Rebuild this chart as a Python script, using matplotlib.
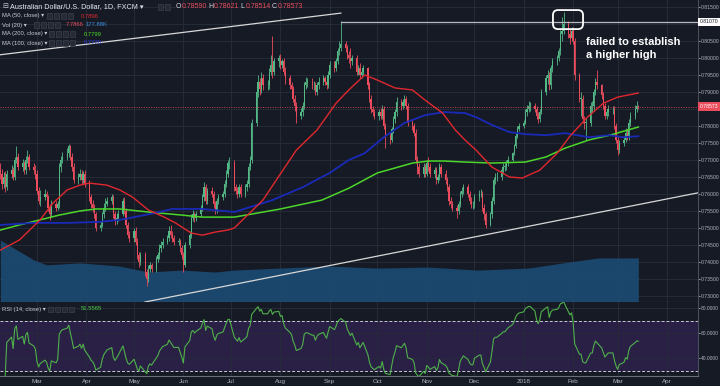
import numpy as np
import pandas as pd
import matplotlib
matplotlib.use('Agg')
import matplotlib.pyplot as plt
import matplotlib.dates as mdates
from matplotlib.patches import Rectangle, FancyBboxPatch

plt.rcParams['font.family'] = ['Liberation Sans', 'DejaVu Sans']

# daily closes AUD/USD, one row per week (Mon..Fri), from 2017-02-06
closes = [
    0.7660, 0.7630, 0.7650, 0.7620, 0.7660,
    0.7670, 0.7650, 0.7700, 0.7710, 0.7680,
    0.7690, 0.7670, 0.7700, 0.7710, 0.7680,
    0.7670, 0.7660, 0.7610, 0.7580, 0.7590,
    0.7600, 0.7590, 0.7560, 0.7540, 0.7570,
    0.7560, 0.7570, 0.7680, 0.7700, 0.7710,
    0.7720, 0.7740, 0.7710, 0.7680, 0.7640,
    0.7650, 0.7660, 0.7640, 0.7660, 0.7630,
    0.7590, 0.7570, 0.7560, 0.7540, 0.7500,
    0.7510, 0.7540, 0.7560, 0.7570, 0.7580,
    0.7590, 0.7540, 0.7520, 0.7530, 0.7540,
    0.7580, 0.7550, 0.7510, 0.7480, 0.7470,
    0.7490, 0.7460, 0.7420, 0.7400, 0.7420,
    0.7370, 0.7350, 0.7380, 0.7390, 0.7380,
    0.7410, 0.7420, 0.7440, 0.7450, 0.7460,
    0.7470, 0.7490, 0.7480, 0.7470, 0.7460,
    0.7460, 0.7440, 0.7420, 0.7390, 0.7450,
    0.7480, 0.7530, 0.7540, 0.7530, 0.7540,
    0.7560, 0.7590, 0.7620, 0.7580, 0.7610,
    0.7600, 0.7570, 0.7550, 0.7580, 0.7590,
    0.7600, 0.7630, 0.7660, 0.7690, 0.7690,
    0.7620, 0.7610, 0.7600, 0.7620, 0.7600,
    0.7620, 0.7630, 0.7680, 0.7700, 0.7810,
    0.7900, 0.7930, 0.7910, 0.7940, 0.7920,
    0.7920, 0.7960, 0.7980, 0.7960, 0.7990,
    0.8000, 0.7980, 0.7990, 0.7960, 0.7940,
    0.7920, 0.7910, 0.7880, 0.7860, 0.7830,
    0.7840, 0.7860, 0.7920, 0.7930, 0.7930,
    0.7920, 0.7920, 0.7900, 0.7920, 0.7930,
    0.7940, 0.7930, 0.7920, 0.7950, 0.7980,
    0.7970, 0.7990, 0.8020, 0.8030, 0.8040,
    0.8030, 0.8010, 0.8000, 0.7990, 0.8000,
    0.7960, 0.7970, 0.7950, 0.7960, 0.7970,
    0.7920, 0.7880, 0.7850, 0.7840, 0.7830,
    0.7840, 0.7830, 0.7850, 0.7800, 0.7770,
    0.7760, 0.7790, 0.7820, 0.7840, 0.7870,
    0.7860, 0.7870, 0.7880, 0.7860, 0.7810,
    0.7800, 0.7780, 0.7700, 0.7680, 0.7660,
    0.7680, 0.7660, 0.7690, 0.7680, 0.7660,
    0.7670, 0.7640, 0.7650, 0.7680, 0.7660,
    0.7640, 0.7620, 0.7580, 0.7570, 0.7560,
    0.7550, 0.7570, 0.7600, 0.7610, 0.7620,
    0.7600, 0.7580, 0.7570, 0.7570, 0.7590,
    0.7600, 0.7600, 0.7560, 0.7540, 0.7510,
    0.7540, 0.7580, 0.7640, 0.7650, 0.7650,
    0.7670, 0.7680, 0.7680, 0.7690, 0.7700,
    0.7720, 0.7740, 0.7770, 0.7790, 0.7800,
    0.7810, 0.7840, 0.7850, 0.7860, 0.7860,
    0.7850, 0.7830, 0.7820, 0.7840, 0.7900,
    0.7940, 0.7950, 0.7920, 0.7970, 0.7990,
    0.8000, 0.8020, 0.8070, 0.8080, 0.8100,
    0.8070, 0.8060, 0.8080, 0.8050, 0.7950,
    0.7880, 0.7880, 0.7820, 0.7810, 0.7810,
    0.7860, 0.7860, 0.7900, 0.7930, 0.7920,
    0.7890, 0.7860, 0.7830, 0.7840, 0.7850,
    0.7850, 0.7800, 0.7760, 0.7730, 0.7750,
    0.7760, 0.7780, 0.7770, 0.7810, 0.7830,
    0.7850, 0.7859, 0.78573,
]
highs = [
    0.7690, 0.7675, 0.7665, 0.7668, 0.7672,
    0.7685, 0.7680, 0.7710, 0.7740, 0.7722,
    0.7702, 0.7698, 0.7712, 0.7730, 0.7718,
    0.7690, 0.7684, 0.7672, 0.7620, 0.7612,
    0.7614, 0.7610, 0.7598, 0.7570, 0.7582,
    0.7580, 0.7578, 0.7690, 0.7712, 0.7725,
    0.7735, 0.7748, 0.7745, 0.7720, 0.7690,
    0.7662, 0.7675, 0.7670, 0.7668, 0.7670,
    0.7640, 0.7600, 0.7582, 0.7570, 0.7548,
    0.7522, 0.7548, 0.7575, 0.7588, 0.7590,
    0.7600, 0.7598, 0.7550, 0.7545, 0.7552,
    0.7588, 0.7590, 0.7560, 0.7518, 0.7490,
    0.7500, 0.7502, 0.7470, 0.7430, 0.7430,
    0.7428, 0.7380, 0.7390, 0.7400, 0.7398,
    0.7418, 0.7430, 0.7452, 0.7462, 0.7470,
    0.7480, 0.7505, 0.7510, 0.7490, 0.7478,
    0.7470, 0.7468, 0.7450, 0.7428, 0.7458,
    0.7490, 0.7540, 0.7552, 0.7548, 0.7550,
    0.7568, 0.7600, 0.7635, 0.7628, 0.7618,
    0.7620, 0.7608, 0.7580, 0.7588, 0.7600,
    0.7610, 0.7640, 0.7670, 0.7700, 0.7710,
    0.7700, 0.7630, 0.7622, 0.7630, 0.7628,
    0.7630, 0.7640, 0.7690, 0.7712, 0.7820,
    0.7910, 0.7950, 0.7940, 0.7960, 0.7952,
    0.7935, 0.7970, 0.8010, 0.8065, 0.8000,
    0.8010, 0.8012, 0.7998, 0.8000, 0.7975,
    0.7950, 0.7930, 0.7918, 0.7890, 0.7870,
    0.7852, 0.7870, 0.7928, 0.7945, 0.7940,
    0.7940, 0.7932, 0.7928, 0.7930, 0.7945,
    0.7950, 0.7948, 0.7940, 0.7962, 0.7990,
    0.7992, 0.8000, 0.8030, 0.8050, 0.8110,
    0.8050, 0.8038, 0.8020, 0.8030, 0.8010,
    0.8008, 0.7980, 0.7985, 0.7968, 0.7980,
    0.7975, 0.7930, 0.7890, 0.7860, 0.7850,
    0.7850, 0.7852, 0.7862, 0.7858, 0.7810,
    0.7778, 0.7798, 0.7830, 0.7850, 0.7885,
    0.7880, 0.7880, 0.7890, 0.7888, 0.7868,
    0.7822, 0.7808, 0.7790, 0.7712, 0.7690,
    0.7690, 0.7688, 0.7700, 0.7710, 0.7690,
    0.7680, 0.7678, 0.7660, 0.7690, 0.7688,
    0.7670, 0.7650, 0.7630, 0.7592, 0.7580,
    0.7568, 0.7580, 0.7610, 0.7620, 0.7630,
    0.7630, 0.7608, 0.7590, 0.7580, 0.7600,
    0.7612, 0.7615, 0.7608, 0.7570, 0.7548,
    0.7548, 0.7590, 0.7650, 0.7662, 0.7665,
    0.7680, 0.7690, 0.7692, 0.7700, 0.7712,
    0.7725, 0.7748, 0.7780, 0.7800, 0.7810,
    0.7818, 0.7850, 0.7862, 0.7875, 0.7872,
    0.7868, 0.7858, 0.7840, 0.7850, 0.7910,
    0.7950, 0.7965, 0.7960, 0.7980, 0.8000,
    0.8010, 0.8030, 0.8082, 0.8120, 0.8135,
    0.8110, 0.8085, 0.8090, 0.8092, 0.8060,
    0.7955, 0.7900, 0.7890, 0.7830, 0.7825,
    0.7870, 0.7875, 0.7910, 0.7940, 0.7965,
    0.7925, 0.7900, 0.7868, 0.7850, 0.7862,
    0.7860, 0.7858, 0.7810, 0.7770, 0.7760,
    0.7772, 0.7795, 0.7790, 0.7820, 0.7840,
    0.7862, 0.7875, 0.78621,
]
lows = [
    0.7645, 0.7615, 0.7618, 0.7605, 0.7612,
    0.7648, 0.7640, 0.7642, 0.7690, 0.7670,
    0.7668, 0.7660, 0.7660, 0.7690, 0.7672,
    0.7660, 0.7645, 0.7600, 0.7570, 0.7565,
    0.7582, 0.7580, 0.7550, 0.7525, 0.7532,
    0.7550, 0.7552, 0.7560, 0.7665, 0.7690,
    0.7700, 0.7710, 0.7700, 0.7668, 0.7632,
    0.7628, 0.7640, 0.7630, 0.7632, 0.7622,
    0.7580, 0.7560, 0.7548, 0.7530, 0.7490,
    0.7490, 0.7502, 0.7530, 0.7550, 0.7565,
    0.7570, 0.7530, 0.7510, 0.7512, 0.7522,
    0.7535, 0.7540, 0.7500, 0.7470, 0.7460,
    0.7460, 0.7450, 0.7410, 0.7385, 0.7392,
    0.7360, 0.7330, 0.7342, 0.7370, 0.7370,
    0.7372, 0.7400, 0.7410, 0.7430, 0.7440,
    0.7452, 0.7462, 0.7470, 0.7460, 0.7450,
    0.7450, 0.7430, 0.7410, 0.7370, 0.7385,
    0.7440, 0.7472, 0.7520, 0.7518, 0.7522,
    0.7532, 0.7550, 0.7580, 0.7570, 0.7572,
    0.7590, 0.7560, 0.7540, 0.7545, 0.7570,
    0.7582, 0.7592, 0.7620, 0.7650, 0.7675,
    0.7610, 0.7600, 0.7588, 0.7592, 0.7590,
    0.7592, 0.7610, 0.7620, 0.7670, 0.7692,
    0.7800, 0.7885, 0.7890, 0.7898, 0.7905,
    0.7905, 0.7910, 0.7950, 0.7940, 0.7950,
    0.7975, 0.7968, 0.7970, 0.7950, 0.7925,
    0.7910, 0.7900, 0.7870, 0.7845, 0.7810,
    0.7820, 0.7830, 0.7850, 0.7910, 0.7915,
    0.7910, 0.7905, 0.7890, 0.7890, 0.7910,
    0.7920, 0.7920, 0.7910, 0.7912, 0.7940,
    0.7960, 0.7962, 0.7982, 0.8010, 0.8020,
    0.8018, 0.7998, 0.7985, 0.7970, 0.7978,
    0.7950, 0.7950, 0.7938, 0.7940, 0.7950,
    0.7910, 0.7870, 0.7838, 0.7828, 0.7820,
    0.7818, 0.7820, 0.7822, 0.7790, 0.7735,
    0.7748, 0.7752, 0.7780, 0.7810, 0.7830,
    0.7848, 0.7850, 0.7860, 0.7850, 0.7800,
    0.7788, 0.7770, 0.7690, 0.7660, 0.7650,
    0.7650, 0.7650, 0.7652, 0.7668, 0.7650,
    0.7648, 0.7630, 0.7632, 0.7642, 0.7650,
    0.7630, 0.7610, 0.7568, 0.7560, 0.7550,
    0.7530, 0.7540, 0.7562, 0.7590, 0.7600,
    0.7590, 0.7570, 0.7560, 0.7555, 0.7560,
    0.7580, 0.7590, 0.7550, 0.7525, 0.7500,
    0.7505, 0.7530, 0.7570, 0.7630, 0.7638,
    0.7640, 0.7660, 0.7668, 0.7672, 0.7682,
    0.7698, 0.7715, 0.7735, 0.7765, 0.7785,
    0.7795, 0.7805, 0.7830, 0.7840, 0.7845,
    0.7840, 0.7822, 0.7808, 0.7812, 0.7835,
    0.7890, 0.7925, 0.7905, 0.7910, 0.7960,
    0.7980, 0.7990, 0.8010, 0.8050, 0.8070,
    0.8060, 0.8040, 0.8050, 0.8040, 0.7935,
    0.7870, 0.7830, 0.7810, 0.7790, 0.7760,
    0.7800, 0.7840, 0.7845, 0.7890, 0.7910,
    0.7880, 0.7850, 0.7820, 0.7820, 0.7830,
    0.7835, 0.7790, 0.7750, 0.7715, 0.7722,
    0.7740, 0.7752, 0.7760, 0.7760, 0.7800,
    0.7820, 0.7842, 0.78514,
]
first_open = 0.7670

# moving averages
ma50_dates = ['2017-02-06', '2017-02-18', '2017-03-03', '2017-03-11', '2017-03-20', '2017-03-28',
              '2017-04-03', '2017-04-14', '2017-04-22', '2017-04-30', '2017-05-10', '2017-05-20',
              '2017-05-27', '2017-06-06', '2017-06-13', '2017-06-21', '2017-06-29', '2017-07-03',
              '2017-07-21', '2017-08-11', '2017-08-24', '2017-09-05', '2017-09-13', '2017-09-23',
              '2017-10-01', '2017-10-12', '2017-10-23', '2017-10-31', '2017-11-11', '2017-11-19',
              '2017-11-25', '2017-12-02', '2017-12-12', '2017-12-23', '2017-12-31', '2018-01-11',
              '2018-01-22', '2018-01-30', '2018-02-10', '2018-02-20', '2018-03-01', '2018-03-14']
ma50_vals = [0.7435, 0.7465, 0.7524, 0.7573, 0.7612, 0.7626,
             0.7632, 0.7626, 0.7612, 0.7591, 0.7553, 0.7532,
             0.7515, 0.7485, 0.7479, 0.7488, 0.7494, 0.7500,
             0.7582, 0.7729, 0.7788, 0.7867, 0.7906, 0.7950,
             0.7935, 0.7912, 0.7906, 0.7876, 0.7838, 0.7788,
             0.7759, 0.7729, 0.7679, 0.7650, 0.7647, 0.7670,
             0.7720, 0.7770, 0.7826, 0.7867, 0.7885, 0.7897]

ma100_dates = ['2017-02-06', '2017-02-27', '2017-03-20', '2017-04-09', '2017-04-22', '2017-05-01',
               '2017-05-14', '2017-05-25', '2017-06-13', '2017-07-03', '2017-07-27', '2017-08-15',
               '2017-09-01', '2017-09-13', '2017-09-23', '2017-10-05', '2017-10-18', '2017-10-31',
               '2017-11-12', '2017-11-25', '2017-12-02', '2017-12-12', '2017-12-23', '2018-01-02',
               '2018-01-15', '2018-01-27', '2018-02-11', '2018-02-24', '2018-03-04', '2018-03-14']
ma100_vals = [0.7509, 0.7515, 0.7515, 0.7518, 0.7524, 0.7532,
              0.7544, 0.7556, 0.7556, 0.7547, 0.7582, 0.7620,
              0.7662, 0.7700, 0.7720, 0.7767, 0.7809, 0.7832,
              0.7841, 0.7838, 0.7826, 0.7803, 0.7782, 0.7776,
              0.7773, 0.7779, 0.7767, 0.7773, 0.7767, 0.7770]

ma200_dates = ['2017-02-06', '2017-02-18', '2017-03-03', '2017-03-15', '2017-03-28', '2017-04-07',
               '2017-04-22', '2017-05-10', '2017-05-31', '2017-06-13', '2017-07-03', '2017-07-31',
               '2017-08-27', '2017-09-13', '2017-10-01', '2017-10-23', '2017-11-02', '2017-11-12',
               '2017-11-25', '2017-12-12', '2018-01-02', '2018-01-15', '2018-01-27', '2018-02-11',
               '2018-02-24', '2018-03-14']
ma200_vals = [0.7494, 0.7509, 0.7524, 0.7538, 0.7550, 0.7556,
              0.7556, 0.7547, 0.7538, 0.7532, 0.7532, 0.7555,
              0.7582, 0.7617, 0.7662, 0.7691, 0.7697, 0.7697,
              0.7694, 0.7691, 0.7694, 0.7709, 0.7735, 0.7759,
              0.7773, 0.7797]

# volume (20) in thousands
vol_dates = ['2017-02-06', '2017-02-27', '2017-03-07', '2017-03-28', '2017-04-22', '2017-05-10',
             '2017-05-31', '2017-06-21', '2017-07-03', '2017-07-31', '2017-09-01', '2017-10-01',
             '2017-11-02', '2017-12-03', '2018-01-04', '2018-01-30', '2018-02-17', '2018-03-14']
vol_k = [250, 170, 150, 158, 145, 121, 129, 121, 129, 137, 145, 137, 141, 129, 137, 162, 178, 178]

# trend lines drawn on the chart
resist_line = (['2017-02-05', '2017-09-08'], [0.8009, 0.8132])
top_level = (['2017-09-08', '2018-04-21'], [0.8107, 0.8107])
support_line = (['2017-05-14', '2018-04-20'], [0.7288, 0.7603])

BG = '#161a25'
GRID = '#262b38'
TXT = '#c8cbd3'
UP = '#53b987'
DOWN = '#eb4d5c'
W, H = 720, 386

fig = plt.figure(figsize=(7.2, 3.86), dpi=100, facecolor=BG)
ax = fig.add_axes([0, 1 - 302 / H, 698 / W, 302 / H], facecolor=BG)
ax2 = fig.add_axes([0, 1 - 376 / H, 698 / W, 74 / H], facecolor=BG, sharex=ax)

x0 = mdates.date2num(pd.Timestamp('2017-02-05 18:00'))
x1 = mdates.date2num(pd.Timestamp('2018-04-20 12:00'))

# candles
dates = pd.bdate_range('2017-02-06', periods=len(closes))
xd = mdates.date2num(dates)
c = np.array(closes)
o = np.r_[first_open, c[:-1]]
h = np.maximum(np.array(highs), np.maximum(o, c))
l = np.minimum(np.array(lows), np.minimum(o, c))
col = np.where(c >= o, UP, DOWN)
ax.vlines(xd, l, h, colors=col, lw=0.6, zorder=3)
ax.bar(xd, np.maximum(np.abs(c - o), 0.00012), bottom=np.minimum(o, c), width=0.8,
       color=col, lw=0, zorder=3)

# volume area
vx = mdates.date2num(pd.to_datetime(vol_dates))
ax.fill_between(vx, 0, np.array(vol_k) / 1220.0, transform=ax.get_xaxis_transform(),
                color='#1b4b73', alpha=0.9, lw=0, zorder=1)

# moving averages
ax.plot(pd.to_datetime(ma200_dates), ma200_vals, color='#4cd62a', lw=1.1, zorder=4)
ax.plot(pd.to_datetime(ma100_dates), ma100_vals, color='#1a2ab8', lw=1.3, zorder=4)
ax.plot(pd.to_datetime(ma50_dates), ma50_vals, color='#e0282e', lw=1.0, zorder=4)

# trend lines
ax.plot(pd.to_datetime(resist_line[0]), resist_line[1], color='#d8d8d8', lw=0.9, zorder=5)
ax.plot(pd.to_datetime(top_level[0]), top_level[1], color='#b8bac0', lw=0.9, zorder=5)
sl = [mdates.date2num(pd.Timestamp(d)) for d in support_line[0]]
ax.axline((sl[0], support_line[1][0]), (sl[1], support_line[1][1]), color='#d8d8d8', lw=0.9, zorder=5)

# last price line
ax.axhline(c[-1], color=DOWN, lw=0.7, ls=(0, (1, 1.5)), zorder=5, alpha=0.8)

# highlight box and note
bx0 = mdates.date2num(pd.Timestamp('2018-01-19 08:00'))
ax.add_patch(FancyBboxPatch((bx0, 0.8085), 18.9, 0.0056,
                            boxstyle='round,pad=0,rounding_size=3.2', mutation_aspect=0.000468,
                            fc='none', ec='white', lw=1.3, zorder=6))
ax.text(mdates.date2num(pd.Timestamp('2018-02-09')), 0.8061, 'failed to establish\na higher high',
        color='white', fontsize=8, fontweight='bold', va='top', ha='left', linespacing=1.3, zorder=6)

ax.set_xlim(x0, x1)
ax.set_ylim(0.728235, 0.81706)

# axes styling
months = pd.date_range('2017-03-01', '2018-04-01', freq='MS')
labels = ['2018' if m.month == 1 else m.strftime('%b') for m in months]
for a in (ax, ax2):
    a.set_xticks(mdates.date2num(months))
    a.grid(True, color=GRID, lw=0.7)
    a.set_axisbelow(True)
    for s in ('top', 'left'):
        a.spines[s].set_visible(False)
    a.spines['right'].set_color('#4a4e5a')
    a.spines['bottom'].set_color('#6a6e78')
    a.yaxis.tick_right()
    a.tick_params(colors='#b2b5be', labelsize=3.7, length=1.5, width=0.6, pad=0.8)
ax.tick_params(axis='x', labelbottom=False, length=0)
ax2.tick_params(axis='y', labelsize=3.5)
ax2.set_xticklabels(labels)
ax2.tick_params(axis='x', length=0, pad=2, labelsize=4.5)

yt = np.arange(0.730, 0.8151, 0.005)
ax.set_yticks(yt)
# labels at 0.810 and 0.785 sit under the price tags
ax.set_yticklabels(['' if abs(v - 0.810) < 1e-6 or abs(v - 0.785) < 1e-6 else '%.5f' % v for v in yt])

# price tags
ax.text(1.002, 0.8107, '0.81070', transform=ax.get_yaxis_transform(), fontsize=3.7, color='#131722',
        va='center', ha='left', bbox=dict(boxstyle='square,pad=0.3', fc='white', ec='none'), zorder=7,
        clip_on=False)
ax.text(1.002, c[-1], '%.5f' % c[-1], transform=ax.get_yaxis_transform(), fontsize=3.7, color='white',
        va='center', ha='left', bbox=dict(boxstyle='square,pad=0.3', fc=DOWN, ec='none'), zorder=7,
        clip_on=False)

# RSI panel
s = pd.Series(c)
d = s.diff()
gain = d.clip(lower=0).ewm(alpha=1 / 14, adjust=True, min_periods=3).mean()
loss = (-d.clip(upper=0)).ewm(alpha=1 / 14, adjust=True, min_periods=3).mean()
rsi = 100 - 100 / (1 + gain / loss)
ax2.axhspan(30, 70, color='#2a2046', lw=0, zorder=0)
ax2.axhline(70, color='#c9c9d8', lw=0.7, ls=(0, (3, 2)), zorder=1)
ax2.axhline(30, color='#c9c9d8', lw=0.7, ls=(0, (3, 2)), zorder=1)
ax2.plot(xd, rsi, color='#4fb04a', lw=0.8, zorder=3)
ax2.set_ylim(25.6, 84.8)
ax2.set_yticks([40, 60, 80])
ax2.set_yticklabels(['40.0000', '60.0000', '80.0000'])
ax2.set_xlim(x0, x1)


# legend texts
def ftext(xp, yp, s, color=TXT, size=4.2, **kw):
    fig.text(xp / W, 1 - yp / H, s, color=color, fontsize=size, va='center', ha='left', **kw)


def boxes(xp, yp, n):
    for i in range(n):
        fig.patches.append(Rectangle(((xp + i * 7) / W, 1 - (yp + 2.5) / H), 5 / W, 5 / H,
                                     transform=fig.transFigure, fc='#262a35', ec='#3c404c', lw=0.5))


ftext(2, 7, '⊟', size=5)
ftext(10, 7, 'Australian Dollar/U.S. Dollar, 1D, FXCM ▾', color='#e6e8ee', size=5.2)
boxes(158, 7, 2)
for i, (k, v) in enumerate([('O', '0.78590'), ('H', '0.78621'), ('L', '0.78514'), ('C', '0.78573')]):
    ftext(176 + i * 32, 7, k, color='#d8dae0', size=5.0)
    ftext(182 + i * 32, 7, v, color=DOWN, size=5.0)

ftext(2, 16, 'MA (50, close) ▾')
boxes(47, 16, 4)
ftext(81, 16, '0.7896', color='#e0282e')
ftext(2, 25, 'Vol (20) ▾')
boxes(34, 25, 4)
ftext(66, 25, '7.7866', color=DOWN)
ftext(86, 25, '177.88K', color='#3b8fe0')
ftext(2, 34, 'MA (200, close) ▾')
boxes(49, 34, 4)
ftext(84, 34, '0.7799', color='#4cd62a')
ftext(2, 43, 'MA (100, close) ▾')
boxes(49, 43, 4)
ftext(84, 43, '0.7770', color='#2a3cd8')

ftext(2, 309, 'RSI (14, close) ▾')
boxes(48, 309, 4)
ftext(81, 309, '51.5565', color='#4fd04a')

fig.savefig('out.png', dpi=100, facecolor=BG)
